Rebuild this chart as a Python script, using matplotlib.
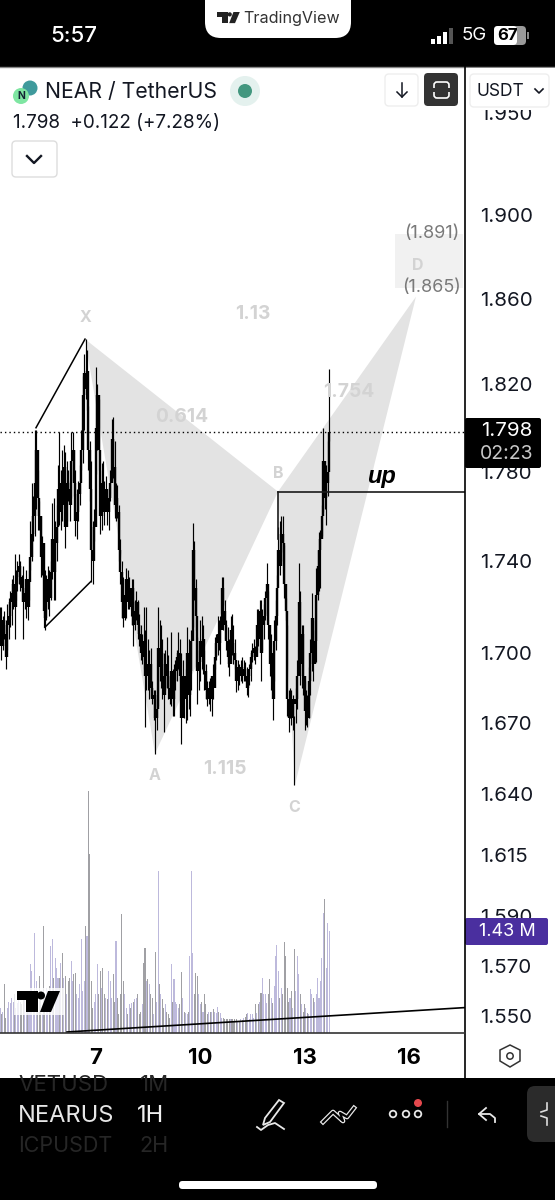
import numpy as np
from matplotlib import pyplot as plt
from matplotlib.patches import FancyBboxPatch, Circle, Polygon, Rectangle

plt.rcParams['font.family'] = ['Inter', 'DejaVu Sans']

# hourly candles, NEAR / USDT
high = [1.720,1.720,1.716,1.718,1.714,1.721,1.724,1.727,1.732,1.734,
        1.743,1.736,1.740,1.743,1.740,1.734,1.738,1.732,1.736,1.727,
        1.736,1.758,1.775,1.769,1.799,1.799,1.781,1.767,1.760,1.751,
        1.732,1.736,1.734,1.738,1.736,1.740,1.766,1.768,1.758,1.765,
        1.783,1.798,1.781,1.790,1.792,1.789,1.785,1.781,1.776,1.798,
        1.798,1.790,1.781,1.772,1.776,1.783,1.799,1.824,1.834,1.841,
        1.836,1.810,1.794,1.785,1.758,1.763,1.828,1.820,1.813,1.781,
        1.784,1.785,1.776,1.778,1.772,1.773,1.781,1.804,1.805,1.794,
        1.775,1.774,1.765,1.750,1.740,1.733,1.732,1.737,1.736,1.733,
        1.727,1.732,1.732,1.723,1.727,1.723,1.717,1.712,1.708,1.720,
        1.710,1.720,1.706,1.701,1.702,1.688,1.684,1.684,1.680,1.720,
        1.714,1.712,1.706,1.700,1.701,1.707,1.699,1.690,1.709,1.693,
        1.695,1.697,1.701,1.709,1.706,1.700,1.697,1.690,1.693,1.711,
        1.706,1.697,1.710,1.757,1.749,1.732,1.707,1.701,1.714,1.716,
        1.712,1.701,1.695,1.688,1.688,1.689,1.688,1.695,1.707,1.708,
        1.716,1.714,1.716,1.733,1.733,1.723,1.714,1.711,1.706,1.716,
        1.717,1.712,1.706,1.694,1.697,1.695,1.697,1.698,1.697,1.696,
        1.694,1.692,1.695,1.701,1.704,1.706,1.703,1.719,1.719,1.723,
        1.723,1.719,1.721,1.727,1.739,1.727,1.706,1.708,1.699,1.714,
        1.723,1.734,1.755,1.758,1.760,1.760,1.747,1.724,1.712,1.684,
        1.685,1.684,1.682,1.673,1.685,1.697,1.739,1.727,1.712,1.712,
        1.688,1.684,1.682,1.694,1.706,1.726,1.710,1.714,1.737,1.745,
        1.753,1.754,1.765,1.800,1.783,1.783,1.794,1.827]
low = [1.705,1.697,1.701,1.706,1.693,1.701,1.706,1.711,1.712,1.719,
       1.706,1.723,1.727,1.730,1.727,1.723,1.706,1.719,1.715,1.714,
       1.723,1.736,1.740,1.749,1.751,1.763,1.754,1.754,1.733,1.734,
       1.711,1.710,1.714,1.719,1.716,1.723,1.732,1.723,1.723,1.740,
       1.763,1.756,1.754,1.758,1.763,1.746,1.758,1.767,1.758,1.768,
       1.776,1.769,1.751,1.750,1.758,1.765,1.781,1.784,1.799,1.813,
       1.808,1.781,1.767,1.731,1.730,1.749,1.779,1.790,1.781,1.752,
       1.754,1.765,1.756,1.763,1.756,1.754,1.767,1.776,1.777,1.759,
       1.758,1.759,1.740,1.730,1.715,1.711,1.714,1.715,1.719,1.719,
       1.716,1.712,1.703,1.710,1.714,1.706,1.703,1.697,1.695,1.693,
       1.668,1.684,1.684,1.680,1.681,1.678,1.671,1.657,1.667,1.677,
       1.688,1.685,1.680,1.666,1.684,1.685,1.680,1.678,1.677,1.673,
       1.673,1.684,1.688,1.693,1.688,1.661,1.680,1.672,1.670,1.671,
       1.676,1.673,1.684,1.711,1.723,1.710,1.678,1.684,1.688,1.693,
       1.691,1.684,1.680,1.677,1.678,1.675,1.673,1.680,1.693,1.697,
       1.699,1.701,1.695,1.714,1.710,1.706,1.701,1.694,1.690,1.701,
       1.699,1.695,1.693,1.683,1.684,1.686,1.688,1.687,1.688,1.688,
       1.682,1.681,1.686,1.688,1.696,1.697,1.695,1.701,1.703,1.706,
       1.688,1.701,1.706,1.714,1.717,1.706,1.690,1.684,1.671,1.688,
       1.701,1.712,1.734,1.734,1.740,1.744,1.724,1.714,1.673,1.666,
       1.672,1.669,1.667,1.644,1.670,1.676,1.699,1.686,1.685,1.682,
       1.667,1.669,1.668,1.672,1.682,1.692,1.688,1.696,1.696,1.723,
       1.727,1.728,1.751,1.762,1.763,1.756,1.769,1.794]
close = [1.712,1.703,1.714,1.708,1.698,1.712,1.716,1.722,1.726,1.730,
         1.720,1.730,1.735,1.738,1.733,1.728,1.722,1.726,1.732,1.720,
         1.731,1.742,1.752,1.760,1.775,1.790,1.768,1.760,1.742,1.748,
         1.718,1.715,1.722,1.732,1.724,1.735,1.750,1.735,1.748,1.755,
         1.772,1.762,1.775,1.765,1.782,1.755,1.775,1.772,1.765,1.785,
         1.790,1.775,1.758,1.762,1.770,1.775,1.790,1.815,1.825,1.818,
         1.826,1.790,1.772,1.745,1.740,1.755,1.800,1.815,1.790,1.760,
         1.775,1.770,1.762,1.772,1.762,1.768,1.775,1.795,1.782,1.765,
         1.768,1.762,1.745,1.735,1.722,1.715,1.725,1.732,1.722,1.728,
         1.720,1.728,1.712,1.718,1.722,1.712,1.708,1.700,1.705,1.698,
         1.690,1.695,1.690,1.695,1.685,1.680,1.682,1.672,1.676,1.702,
         1.694,1.700,1.690,1.682,1.695,1.690,1.685,1.680,1.692,1.680,
         1.688,1.692,1.698,1.700,1.690,1.672,1.690,1.680,1.690,1.700,
         1.682,1.692,1.705,1.745,1.728,1.716,1.692,1.696,1.705,1.698,
         1.706,1.692,1.684,1.680,1.685,1.680,1.690,1.685,1.698,1.704,
         1.708,1.704,1.710,1.728,1.718,1.712,1.705,1.698,1.695,1.710,
         1.704,1.700,1.697,1.688,1.694,1.690,1.694,1.690,1.693,1.690,
         1.685,1.690,1.693,1.698,1.700,1.702,1.698,1.712,1.706,1.718,
         1.700,1.712,1.716,1.724,1.730,1.712,1.695,1.700,1.680,1.705,
         1.716,1.728,1.745,1.738,1.752,1.748,1.730,1.718,1.680,1.672,
         1.678,1.672,1.680,1.678,1.680,1.690,1.722,1.695,1.708,1.690,
         1.675,1.680,1.672,1.688,1.700,1.715,1.695,1.705,1.725,1.738,
         1.745,1.750,1.760,1.785,1.768,1.775,1.780,1.798]
# volume in millions
volume = [.35,.26,.30,.68,.21,.35,.44,.42,.49,.44,
          .54,.35,.42,.49,.44,.40,.49,.54,.35,.44,
          .30,.97,.86,.49,1.40,.72,.30,.79,.49,.26,
          1.49,.54,.63,.44,.65,1.21,1.31,.77,1.05,.91,
          .77,.77,.98,1.12,.77,.79,.54,.72,.77,1.00,
          .72,.82,.84,.54,.49,.68,1.31,.58,.72,1.49,
          1.35,3.38,2.50,.72,.35,.44,.54,.96,.54,.86,
          .63,.91,.54,.49,.47,.87,.72,.49,.82,.44,
          1.28,.49,.26,.54,1.66,.72,.54,.35,.26,.40,
          .35,.42,.44,.47,.49,.54,.26,.30,.40,.98,
          1.19,.72,.75,.68,.54,.49,.26,1.13,.44,2.27,
          .68,.54,.47,.35,.40,.30,.26,.21,.97,.44,
          .75,.44,.40,.35,.40,.85,.49,.30,.28,.26,
          .30,1.07,2.26,1.12,.54,.84,.79,.54,.40,.44,
          .30,.54,.40,.26,.30,.30,.30,.33,.30,.28,
          .36,.30,.28,.21,.21,.19,.20,.20,.19,.19,
          .20,.17,.19,.20,.17,.17,.20,.18,.21,.23,
          .26,.28,.19,.26,.26,.21,.40,.28,.40,.44,
          .56,.77,.54,.54,.42,.54,.75,.49,.42,.65,
          1.07,1.23,.86,.49,.63,.54,1.27,1.07,.63,.44,
          .49,.58,.35,1.17,.58,1.07,.82,.54,.40,.30,
          .40,.35,.28,.26,.62,.54,.49,.44,.54,.77,
          .49,.72,1.05,1.68,1.87,.91,1.54,1.43]

price_ticks = [1.950, 1.900, 1.860, 1.820, 1.780, 1.740, 1.700, 1.670, 1.640, 1.615, 1.590, 1.570, 1.550]
day_ticks = [7, 10, 13, 16]

# harmonic pattern points X A B C D
pattern_days = [6.684, 8.695, 12.23, 12.718, 16.195]
pattern_prices = [1.841, 1.657, 1.771, 1.644, 1.861]
prz_prices = [1.865, 1.891]
last_price = 1.798
channel_days = [5.275, 6.684]
channel_top = [1.800, 1.841]
channel_low_days = [5.53, 6.85]
channel_low = [1.711, 1.731]
up_days = [12.23, 17.603]
up_price = [1.771, 1.771]
trend_days = [6.167, 17.603]
trend_prices = [1.5438, 1.5534]

W, H = 555, 1200
fig = plt.figure(figsize=(W / 100, H / 100), dpi=100, facecolor='white')

# chart pane, pixel box x 0-465, y 67-1033
ax = fig.add_axes([0, 1 - 1033 / H, 465 / W, (1033 - 67) / H])
vol_ax = fig.add_axes(ax.get_position(), frameon=False)
ax.set_zorder(2)
vol_ax.set_zorder(1)
ax.patch.set_alpha(0)

days = 4.241 + np.arange(len(close)) / 24
opens = np.array([close[0]] + close[:-1])
closes = np.array(close)

ax.set_yscale('log')
ax.set_ylim(1.5434, 1.9728)
ax.set_xlim(4.241, 17.603)
vol_ax.set_xlim(4.241, 17.603)
vol_ax.set_ylim(0, 13.5)
vol_ax.set_xticks([])
vol_ax.set_yticks([])

vol_colors = ['#bdb9dc' if c >= o else '#a0a0a4' for c, o in zip(closes, opens)]
vol_ax.bar(days, volume, width=0.03, color=vol_colors, linewidth=0)

# pattern fill
ax.add_patch(Polygon(list(zip(pattern_days[:3], pattern_prices[:3])), fc='#e3e3e3', ec='none', zorder=1))
ax.add_patch(Polygon(list(zip(pattern_days[2:], pattern_prices[2:])), fc='#e3e3e3', ec='none', zorder=1))
ax.fill_between([15.59, 17.55], prz_prices[0], prz_prices[1], color='#f1f1f1', lw=0, zorder=1)

ax.vlines(days, low, high, color='black', lw=0.85, zorder=3)
ax.vlines(days, np.minimum(opens, closes), np.maximum(opens, closes), color='black', lw=1.7, zorder=3)

ax.axhline(last_price, color='black', lw=1, linestyle=(0, (1, 2.2)), zorder=4)
ax.plot(channel_days, channel_top, color='black', lw=1.1, zorder=4)
ax.plot(channel_low_days, channel_low, color='black', lw=1.1, zorder=4)
ax.plot(up_days, up_price, color='#1a1a1a', lw=1.2, zorder=4)
ax.plot([12.23, 12.23], [1.771, 1.75], color='#1a1a1a', lw=1.2, zorder=4)
ax.plot(trend_days, trend_prices, color='black', lw=1.2, zorder=4)

ax.yaxis.tick_right()
ax.set_yticks(price_ticks, ['%.3f' % p for p in price_ticks])
ax.minorticks_off()
ax.tick_params(axis='y', length=0, pad=10.5, labelsize=14.8, labelcolor='#131722')
ax.set_xticks(day_ticks, [str(d) for d in day_ticks])
ax.tick_params(axis='x', length=0, pad=10.5, labelsize=16)
for lab in ax.get_xticklabels():
    lab.set_fontweight('bold')
for s in ax.spines.values():
    s.set_visible(False)

# overlay in pixel coordinates for app chrome
ov = fig.add_axes([0, 0, 1, 1], zorder=10)
ov.set_xlim(0, W)
ov.set_ylim(H, 0)
ov.axis('off')
ov.patch.set_alpha(0)


def box(x0, y0, x1, y1, fc, ec='none', r=4, lw=1, z=2):
    ov.add_patch(FancyBboxPatch((x0 + r, y0 + r), x1 - x0 - 2 * r, y1 - y0 - 2 * r,
                                boxstyle='round,pad=%f' % r, fc=fc, ec=ec, lw=lw, zorder=z))


def label(x, y, s, size=13, color='black', ha='center', **kw):
    ov.text(x, y, s, fontsize=size, color=color, ha=ha, va='center', zorder=6, **kw)


def tv_logo(x, y, k, color='black'):
    ov.add_patch(Polygon([(x, y), (x + 21 * k, y), (x + 21 * k, y + 21 * k), (x + 9 * k, y + 21 * k),
                          (x + 9 * k, y + 9 * k), (x, y + 9 * k)], fc=color, ec='none', zorder=6))
    ov.add_patch(Circle((x + 24 * k, y + 4.5 * k), 4 * k, fc=color, ec='none', zorder=6))
    ov.add_patch(Polygon([(x + 31 * k, y), (x + 43 * k, y), (x + 34 * k, y + 21 * k), (x + 23 * k, y + 21 * k)],
                         fc=color, ec='none', zorder=6))


# top status bar
ov.add_patch(Rectangle((0, 0), W, 67, fc='black', ec='none', zorder=1))
ov.plot([0, W], [67, 67], color='#888888', lw=1, zorder=2)
box(205, -30, 351, 38, 'white', r=16)
tv_logo(217, 12, 0.53, '#222222')
label(292, 18, 'TradingView', 11.6, '#333333')
label(74, 36, '5:57', 16, 'white', fontweight='medium')
for bx, bh in zip([431, 437, 443, 449], [5, 8, 12, 16]):
    col = 'white' if bx < 449 else '#555555'
    ov.add_patch(Rectangle((bx, 44 - bh), 4, bh, fc=col, ec='none', zorder=3))
label(474, 36, '5G', 13.5, 'white')
box(494, 26, 526, 45, '#9a9a9a', r=4)
box(494, 26, 517, 45, 'white', r=4, z=3)
label(508, 36, '67', 12, 'black', fontweight='bold')
ov.add_patch(Rectangle((527, 32), 1.5, 7, fc='#888888', ec='none', zorder=3))

# header row
ov.add_patch(Rectangle((466, 68), 89, 42, fc='white', ec='none', zorder=2))
ov.add_patch(Circle((30, 88), 7.5, fc='#3f9a9c', ec='none', zorder=3))
ov.add_patch(Circle((21, 96), 8, fc='#7fe6a2', ec='none', zorder=4))
label(21, 96, 'N', 7.5, '#123', fontweight='bold')
label(45, 92, 'NEAR / TetherUS', 15.3, '#131722', ha='left')
ov.add_patch(Circle((245, 91), 15, fc='#e4f1ee', ec='none', zorder=3))
ov.add_patch(Circle((245, 91), 7, fc='#43977f', ec='none', zorder=4))
label(13, 123, '1.798  +0.122 (+7.28%)', 13.6, '#131722', ha='left')
box(12, 141, 57, 177, 'white', '#dddddd')
ov.plot([27, 34, 41], [156, 163, 156], color='#131722', lw=1.7, zorder=5)
box(385, 74, 418, 106, 'white', '#eeeeee')
ov.plot([402, 402], [83, 97], color='#131722', lw=1.1, zorder=5)
ov.plot([397, 402, 407], [92, 97, 92], color='#131722', lw=1.1, zorder=5)
box(424, 73, 458, 106, '#333333')
box(434, 82, 449, 98, 'none', 'white', r=3, lw=1.2, z=4)
ov.add_patch(Rectangle((431, 88), 21, 4, fc='#333333', ec='none', zorder=5))
box(470, 74, 549, 107, 'white', '#eeeeee')
label(476, 91, 'USDT', 12.5, '#131722', ha='left')
ov.plot([535, 539, 543], [89, 93, 89], color='#131722', lw=1.2, zorder=5)

# pattern labels
for px, py, s in [(85, 318, 'X'), (155, 775, 'A'), (278, 473, 'B'), (294, 807, 'C'), (418, 266, 'D')]:
    label(px, py, s, 11.5, '#d3d3d3', fontweight='bold')
for px, py, s in [(182, 417, '0.614'), (253, 314, '1.13'), (225, 769, '1.115'), (349, 392, '1.754')]:
    label(px, py, s, 13.8, '#d3d3d3', fontweight='bold')
label(432, 233, '(1.891)', 13, '#7a7a7a')
label(432, 288, '(1.865)', 13, '#7a7a7a')
ov.text(381, 476, 'up', fontsize=17, color='black', ha='center', va='center', zorder=6,
        family=['Liberation Sans'], fontweight='bold', fontstyle='italic')

# price tags
box(465, 418, 541, 468, 'black', r=2)
label(507, 431, '1.798', 14.8, 'white')
label(507, 454, '02:23', 14, '#c8c8c8')
box(465, 918, 548, 945, '#4a2f9f', r=2)
label(507, 931, '1.43 M', 13, 'white')

# volume pane logo
ov.add_patch(Rectangle((14, 988), 50, 27, fc='white', alpha=0.8, ec='none', zorder=5))
tv_logo(17, 991, 1)

# frame lines
ov.plot([465, 465], [67, 1078], color='black', lw=1.2, zorder=5)
ov.plot([0, 465], [1033, 1033], color='#333333', lw=1.2, zorder=5)
ov.add_patch(Polygon([(510, 1045), (520, 1050), (520, 1061), (510, 1067), (500, 1061), (500, 1050)],
                     fc='none', ec='#333333', lw=1.1, zorder=5))
ov.add_patch(Circle((510, 1056), 3.2, fc='none', ec='#333333', lw=1.1, zorder=5))

# bottom toolbar
ov.add_patch(Rectangle((0, 1078), W, 122, fc='black', ec='none', zorder=1))
label(18, 1085, 'VETUSD', 16, '#262626', ha='left')
label(140, 1085, '1M', 16, '#262626', ha='left')
label(18, 1116, 'NEARUS', 17, '#e6e6e6', ha='left')
label(137, 1116, '1H', 17, '#f0f0f0', ha='left')
label(18, 1146, 'ICPUSDT', 15.5, '#262626', ha='left')
label(139, 1146, '2H', 15.5, '#262626', ha='left')
ov.add_patch(Rectangle((112, 1078), 20, 80, fc='black', ec='none', zorder=7))
# pen icon
ov.add_patch(Polygon([(279, 1100), (284, 1103), (270, 1122), (263, 1125), (265, 1118)],
                     fc='none', ec='#e8e8e8', lw=1.3, zorder=5))
ov.plot([257, 261, 268, 275, 284], [1127, 1130, 1125, 1123, 1129], color='#e8e8e8', lw=1.3, zorder=5)
# pattern icon
ov.plot([323, 333, 343, 340, 347, 354], [1122, 1112, 1121, 1113, 1117, 1108], color='#e8e8e8', lw=3.4, zorder=5)
ov.plot([323, 333, 343, 340, 347, 354], [1122, 1112, 1121, 1113, 1117, 1108], color='black', lw=1.6, zorder=5)
for cx in [393, 406, 418]:
    ov.add_patch(Circle((cx, 1114), 3.3, fc='none', ec='#e8e8e8', lw=1.3, zorder=5))
ov.add_patch(Circle((418, 1103), 4, fc='#e5484d', ec='none', zorder=6))
ov.plot([447, 447], [1101, 1127], color='#333333', lw=1, zorder=5)
ov.plot([486, 479, 486], [1108, 1114, 1120], color='#e8e8e8', lw=1.3, zorder=5)
ov.plot([479, 490, 495, 495], [1114, 1114, 1118, 1122], color='#e8e8e8', lw=1.3, zorder=5)
box(527, 1086, 575, 1142, '#2b2b2b', r=8)
ov.plot([547, 547, 541], [1103, 1110, 1112], color='#dddddd', lw=1.2, zorder=5)
ov.plot([547, 547, 541], [1125, 1118, 1116], color='#dddddd', lw=1.2, zorder=5)
box(179, 1181, 377, 1189, 'white', r=3.5)

fig.savefig('out.png', dpi=100)
